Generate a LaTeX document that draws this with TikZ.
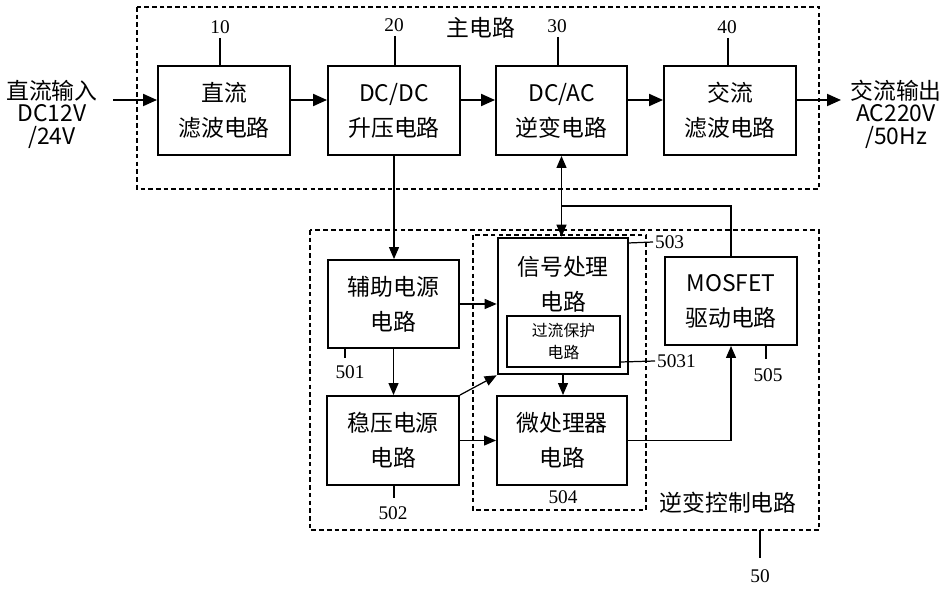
\documentclass[tikz,border=0pt]{standalone}
\usepackage{fontspec}
\newfontfamily\cjk{Noto Sans CJK SC}
\newfontfamily\numf{Liberation Serif}
\usetikzlibrary{arrows.meta,calc}
\begin{document}
\begin{tikzpicture}[x=0.02cm,y=-0.02cm,
  box/.style={draw,line width=1.1pt,minimum width=2.64cm,minimum height=1.78cm,inner sep=0pt},
  btext/.style={font=\cjk\fontsize{13}{20}\selectfont,align=center,inner sep=0pt},
  lab/.style={font=\numf\fontsize{11}{12}\selectfont,inner sep=1pt},
  dbox/.style={draw,line width=0.6pt,dash pattern=on 2.6pt off 1.8pt},
  marr/.style={line width=1.1pt,-{Triangle[length=0.28cm,width=0.24cm]}},
  arr/.style={line width=0.7pt,-{Triangle[length=0.24cm,width=0.2cm]}},
  ln/.style={line width=0.7pt}]
\useasboundingbox (0,0) rectangle (949,590);
% dashed groups
\draw[dbox] (137,7) rectangle (819,189);
\draw[dbox] (310,230) rectangle (819,530);
\draw[dbox] (473,235) rectangle (646,510);
\node[btext] (tmain) at (481,28) {主电路};
\node[btext] (tctrl) at (728,503) {逆变控制电路};
% main row
\node[box,btext] (b10) at (224,110.5) {直流\\滤波电路};
\node[box,btext] (b20) at (394,110.5) {DC/DC\\升压电路};
\node[box,btext,minimum width=2.62cm] (b30) at (561.5,110.5) {DC/AC\\逆变电路};
\node[box,btext] (b40) at (730,110.5) {交流\\滤波电路};
\node[btext,font=\cjk\fontsize{13}{12.8}\selectfont] (tin) at (52,114) {直流输入\\DC12V\\/24V};
\node[btext,font=\cjk\fontsize{13}{12.8}\selectfont] (tout) at (896,114) {交流输出\\AC220V\\/50Hz};
\coordinate (inS) at (113,100);
\coordinate (outE) at (841,100);
\draw[marr] (inS) -- (inS -| b10.west);
\draw[marr] ([yshift=0.21cm]b10.east) -- ([yshift=0.21cm]b20.west);
\draw[marr] ([yshift=0.21cm]b20.east) -- ([yshift=0.21cm]b30.west);
\draw[marr] ([yshift=0.21cm]b30.east) -- ([yshift=0.21cm]b40.west);
\draw[marr] ([yshift=0.21cm]b40.east) -- (outE);
% labels main
\node[lab] (l10) at (220,27) {10};
\node[lab] (l20) at (394,25) {20};
\node[lab] (l30) at (557,26) {30};
\node[lab] (l40) at (727,27) {40};
\draw[ln] (220,38) -- (220,66);
\draw[ln] (395,36) -- (395,66);
\draw[ln] (558,37) -- (558,66);
\draw[ln] (728,38) -- (728,66);
% control boxes
\node[box,btext,minimum width=2.62cm,minimum height=1.76cm] (b501) at (393.5,304) {辅助电源\\电路};
\node[box,btext] (b502) at (393,440.5) {稳压电源\\电路};
\node[box,line width=1.5pt,minimum width=2.6cm,minimum height=2.72cm] (b503) at (563,306) {};
\node[btext] (t503) at (563,284) {信号处理\\电路};
\node[draw,line width=0.7pt,minimum width=2.26cm,minimum height=1.02cm,inner sep=0pt,
      font=\cjk\fontsize{9}{12.5}\selectfont,align=center] (b5031) at (563.5,341.5) {过流保护\\电路};
\node[box,btext,minimum width=2.6cm] (b504) at (562,440.5) {微处理器\\电路};
\node[box,btext,minimum height=1.76cm] (b505) at (731,301) {MOSFET\\驱动电路};
% connectors
\draw[arr] (b20.south) -- (b20.south |- b501.north);
\draw[line width=0.7pt,{Triangle[length=0.24cm,width=0.2cm]}-{Triangle[length=0.24cm,width=0.2cm]}] (b30.south) -- (b30.south |- b503.north);
\coordinate (j) at (561.5,206);
\draw[ln] (b505.north) |- (j);
\draw[arr] (b501.east) -- (b501.east -| b503.west);
\draw[arr] (b501.south) -- (b501.south |- b502.north);
\draw[arr] (b502.north east) -- (b503.south west);
\draw[arr] (b502.east) -- (b502.east -| b504.west);
\draw[arr] (b503.south) -- (b503.south |- b504.north);
\draw[arr] (b504.east) -| (b505.south);
% labels control
\node[lab] (l501) at (350,372) {501};
\node[lab] (l502) at (393,513) {502};
\node[lab,anchor=west] (l503) at (653,242) {503};
\node[lab,anchor=west] (l5031) at (655,361) {5031};
\node[lab] (l504) at (563,497) {504};
\node[lab] (l505) at (768,375) {505};
\node[lab] (l50) at (760,576) {50};
\draw[ln] (345,348) -- (345,358);
\draw[ln] (394,485) -- (394,498);
\draw[ln] (628,243) -- (l503.west);
\draw[ln] (b5031.east |- 0,362) -- (l5031.west);
\draw[ln] (766,345) -- (766,359);
\draw[ln] (760,530) -- (760,558);
\end{tikzpicture}
\end{document}
